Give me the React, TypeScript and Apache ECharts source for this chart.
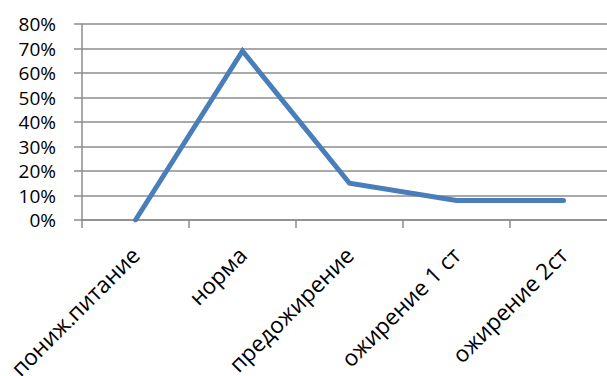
import React, { useEffect, useRef } from "react";
import * as echarts from "echarts";

const categories = ["пониж.питание", "норма", "предожирение", "ожирение 1 ст", "ожирение 2ст"];
const shares = [0, 0.69, 0.15, 0.08, 0.08];
const yTicks = { min: 0, max: 0.8, interval: 0.1 };

const FONT = "'Open Sans', 'DejaVu Sans', sans-serif";
const AXIS_GRAY = "#8c8c8c";

export default function App() {
  const ref = useRef<HTMLDivElement>(null);

  useEffect(() => {
    document.body.style.margin = "0";
    const chart = echarts.init(ref.current!, null, { renderer: "svg" });
    chart.setOption({
      animation: false,
      // the plot runs a little past the right edge of the visible frame
      grid: { left: 82, right: 0, top: 24, bottom: 156, outerBoundsMode: "none", containLabel: false },
      xAxis: {
        type: "category",
        data: categories,
        boundaryGap: true,
        axisLine: { lineStyle: { color: AXIS_GRAY, width: 1.5 } },
        axisTick: { show: true, length: 8, alignWithLabel: false, lineStyle: { color: AXIS_GRAY, width: 1.5 } },
        axisLabel: {
          rotate: 45,
          interval: 0,
          margin: 31,
          color: "#000",
          fontFamily: FONT,
          fontSize: 22.5,
        },
      },
      yAxis: {
        type: "value",
        min: yTicks.min,
        max: yTicks.max,
        interval: yTicks.interval,
        axisLine: { show: true, lineStyle: { color: AXIS_GRAY, width: 1.5 } },
        axisTick: { show: true, length: 8, lineStyle: { color: AXIS_GRAY, width: 1.5 } },
        splitLine: { lineStyle: { color: AXIS_GRAY, width: 1.5 } },
        axisLabel: {
          margin: 26,
          color: "#000",
          fontFamily: FONT,
          fontSize: 19,
          formatter: (v: number) => `${Math.round(v * 100)}%`,
        },
      },
      series: [
        {
          type: "line",
          data: shares,
          symbol: "none",
          lineStyle: { color: "#4A7EBB", width: 5, cap: "round", join: "miter" },
        },
      ],
    });
    return () => chart.dispose();
  }, []);

  return (
    <div style={{ width: 607, height: 376, overflow: "hidden", position: "relative" }}>
      <div ref={ref} style={{ width: 617, height: 376 }} />
    </div>
  );
}
